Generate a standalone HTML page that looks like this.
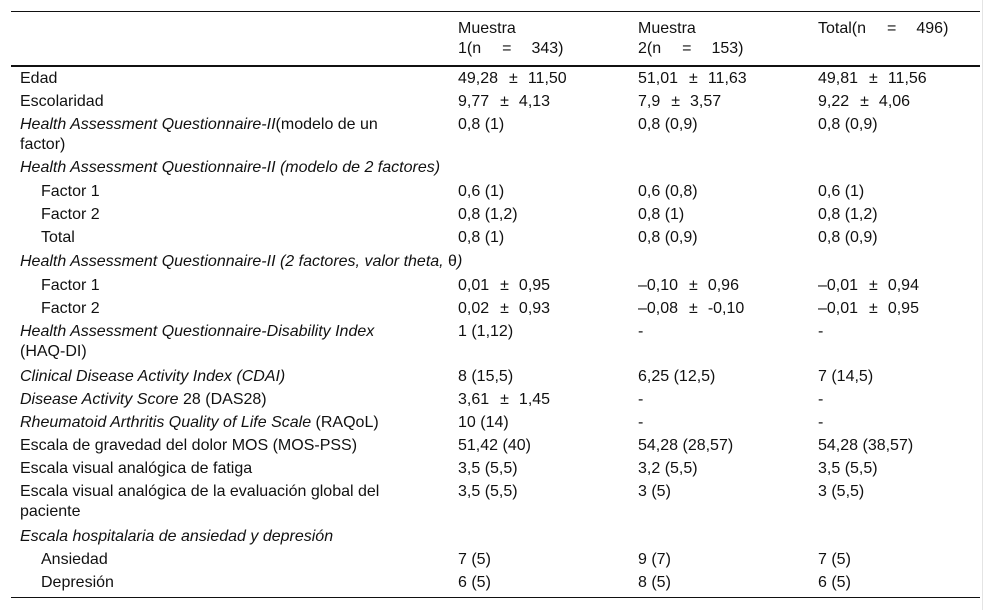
<!DOCTYPE html>
<html><head><meta charset="utf-8"><style>
body{margin:0;width:992px;height:610px;background:#fff;position:relative;font-family:"Liberation Sans",sans-serif;font-size:16px;color:#111;overflow:hidden}
.t{position:absolute;line-height:20px;white-space:pre;margin-top:2px}
.i{font-style:italic}
.p{margin:0 10px 0 11px}
.q{margin:0 20px 0 21px}
.hl{position:absolute;left:11px;width:969px;background:#111}
</style></head><body>
<div style="position:absolute;left:982px;top:0;width:1px;height:610px;background:#e4e4e4"></div>
<div class="hl" style="top:11px;height:1px"></div>
<div class="hl" style="top:65px;height:2px"></div>
<div class="hl" style="top:597px;height:1px"></div>

<div class="t" style="left:458px;top:17px">Muestra
1(n<span class="q">=</span>343)</div>
<div class="t" style="left:638px;top:17px">Muestra
2(n<span class="q">=</span>153)</div>
<div class="t" style="left:818px;top:17px">Total(n<span class="q">=</span>496)</div>

<div class="t" style="left:20px;top:67px">Edad</div>
<div class="t" style="left:458px;top:67px">49,28<span class="p">±</span>11,50</div>
<div class="t" style="left:638px;top:67px">51,01<span class="p">±</span>11,63</div>
<div class="t" style="left:818px;top:67px">49,81<span class="p">±</span>11,56</div>

<div class="t" style="left:20px;top:90px">Escolaridad</div>
<div class="t" style="left:458px;top:90px">9,77<span class="p">±</span>4,13</div>
<div class="t" style="left:638px;top:90px">7,9<span class="p">±</span>3,57</div>
<div class="t" style="left:818px;top:90px">9,22<span class="p">±</span>4,06</div>

<div class="t" style="left:20px;top:113px"><span class="i">Health Assessment Questionnaire-II</span>(modelo de un
factor)</div>
<div class="t" style="left:458px;top:113px">0,8 (1)</div>
<div class="t" style="left:638px;top:113px">0,8 (0,9)</div>
<div class="t" style="left:818px;top:113px">0,8 (0,9)</div>

<div class="t i" style="left:20px;top:156px">Health Assessment Questionnaire-II (modelo de 2 factores)</div>
<div class="t" style="left:41px;top:180px">Factor 1</div>
<div class="t" style="left:458px;top:180px">0,6 (1)</div>
<div class="t" style="left:638px;top:180px">0,6 (0,8)</div>
<div class="t" style="left:818px;top:180px">0,6 (1)</div>
<div class="t" style="left:41px;top:203px">Factor 2</div>
<div class="t" style="left:458px;top:203px">0,8 (1,2)</div>
<div class="t" style="left:638px;top:203px">0,8 (1)</div>
<div class="t" style="left:818px;top:203px">0,8 (1,2)</div>
<div class="t" style="left:41px;top:226px">Total</div>
<div class="t" style="left:458px;top:226px">0,8 (1)</div>
<div class="t" style="left:638px;top:226px">0,8 (0,9)</div>
<div class="t" style="left:818px;top:226px">0,8 (0,9)</div>

<div class="t i" style="left:20px;top:250px">Health Assessment Questionnaire-II (2 factores, valor theta, <span style="font-style:normal">θ</span>)</div>
<div class="t" style="left:41px;top:274px">Factor 1</div>
<div class="t" style="left:458px;top:274px">0,01<span class="p">±</span>0,95</div>
<div class="t" style="left:638px;top:274px">–0,10<span class="p">±</span>0,96</div>
<div class="t" style="left:818px;top:274px">–0,01<span class="p">±</span>0,94</div>
<div class="t" style="left:41px;top:297px">Factor 2</div>
<div class="t" style="left:458px;top:297px">0,02<span class="p">±</span>0,93</div>
<div class="t" style="left:638px;top:297px">–0,08<span class="p">±</span>-0,10</div>
<div class="t" style="left:818px;top:297px">–0,01<span class="p">±</span>0,95</div>

<div class="t" style="left:20px;top:320px"><span class="i">Health Assessment Questionnaire-Disability Index</span>
(HAQ-DI)</div>
<div class="t" style="left:458px;top:320px">1 (1,12)</div>
<div class="t" style="left:638px;top:320px">-</div>
<div class="t" style="left:818px;top:320px">-</div>

<div class="t i" style="left:20px;top:365px">Clinical Disease Activity Index (CDAI)</div>
<div class="t" style="left:458px;top:365px">8 (15,5)</div>
<div class="t" style="left:638px;top:365px">6,25 (12,5)</div>
<div class="t" style="left:818px;top:365px">7 (14,5)</div>

<div class="t" style="left:20px;top:388px"><span class="i">Disease Activity Score</span> 28 (DAS28)</div>
<div class="t" style="left:458px;top:388px">3,61<span class="p">±</span>1,45</div>
<div class="t" style="left:638px;top:388px">-</div>
<div class="t" style="left:818px;top:388px">-</div>

<div class="t" style="left:20px;top:411px"><span class="i">Rheumatoid Arthritis Quality of Life Scale</span> (RAQoL)</div>
<div class="t" style="left:458px;top:411px">10 (14)</div>
<div class="t" style="left:638px;top:411px">-</div>
<div class="t" style="left:818px;top:411px">-</div>

<div class="t" style="left:20px;top:434px">Escala de gravedad del dolor MOS (MOS-PSS)</div>
<div class="t" style="left:458px;top:434px">51,42 (40)</div>
<div class="t" style="left:638px;top:434px">54,28 (28,57)</div>
<div class="t" style="left:818px;top:434px">54,28 (38,57)</div>

<div class="t" style="left:20px;top:457px">Escala visual analógica de fatiga</div>
<div class="t" style="left:458px;top:457px">3,5 (5,5)</div>
<div class="t" style="left:638px;top:457px">3,2 (5,5)</div>
<div class="t" style="left:818px;top:457px">3,5 (5,5)</div>

<div class="t" style="left:20px;top:480px">Escala visual analógica de la evaluación global del
paciente</div>
<div class="t" style="left:458px;top:480px">3,5 (5,5)</div>
<div class="t" style="left:638px;top:480px">3 (5)</div>
<div class="t" style="left:818px;top:480px">3 (5,5)</div>

<div class="t i" style="left:20px;top:525px">Escala hospitalaria de ansiedad y depresión</div>
<div class="t" style="left:41px;top:548px">Ansiedad</div>
<div class="t" style="left:458px;top:548px">7 (5)</div>
<div class="t" style="left:638px;top:548px">9 (7)</div>
<div class="t" style="left:818px;top:548px">7 (5)</div>
<div class="t" style="left:41px;top:571px">Depresión</div>
<div class="t" style="left:458px;top:571px">6 (5)</div>
<div class="t" style="left:638px;top:571px">8 (5)</div>
<div class="t" style="left:818px;top:571px">6 (5)</div>
</body></html>
